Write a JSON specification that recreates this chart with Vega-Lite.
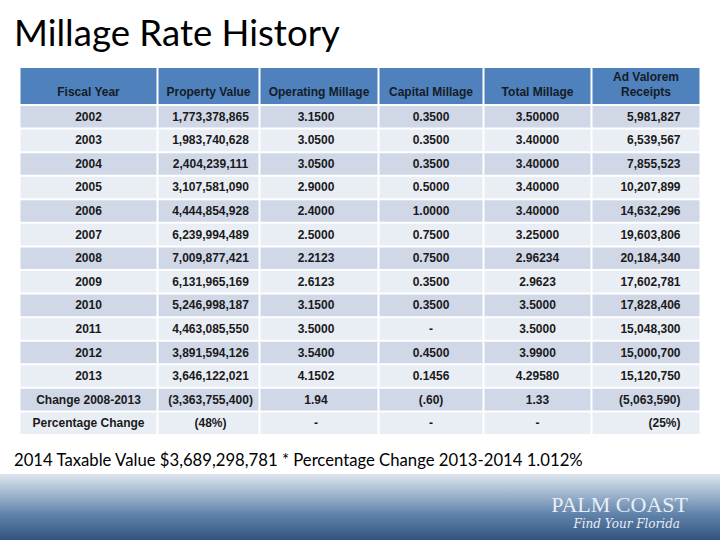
{
  "$schema": "https://vega.github.io/schema/vega-lite/v6.json",
  "padding": {"top": 17, "left": 0, "right": 0, "bottom": 0},
  "background": "white",
  "title": {"text": "Millage Rate History", "anchor": "start", "dx": 14, "font": "Lato", "fontSize": 36.6, "fontWeight": "normal", "color": "#000000", "offset": 14},
  "config": {"view": {"stroke": null}},
  "datasets": {
    "table": [
      {"year": "2002", "pv": "1,773,378,865", "op": "3.1500", "cap": "0.3500", "total": "3.50000", "adv": "5,981,827"},
      {"year": "2003", "pv": "1,983,740,628", "op": "3.0500", "cap": "0.3500", "total": "3.40000", "adv": "6,539,567"},
      {"year": "2004", "pv": "2,404,239,111", "op": "3.0500", "cap": "0.3500", "total": "3.40000", "adv": "7,855,523"},
      {"year": "2005", "pv": "3,107,581,090", "op": "2.9000", "cap": "0.5000", "total": "3.40000", "adv": "10,207,899"},
      {"year": "2006", "pv": "4,444,854,928", "op": "2.4000", "cap": "1.0000", "total": "3.40000", "adv": "14,632,296"},
      {"year": "2007", "pv": "6,239,994,489", "op": "2.5000", "cap": "0.7500", "total": "3.25000", "adv": "19,603,806"},
      {"year": "2008", "pv": "7,009,877,421", "op": "2.2123", "cap": "0.7500", "total": "2.96234", "adv": "20,184,340"},
      {"year": "2009", "pv": "6,131,965,169", "op": "2.6123", "cap": "0.3500", "total": "2.9623", "adv": "17,602,781"},
      {"year": "2010", "pv": "5,246,998,187", "op": "3.1500", "cap": "0.3500", "total": "3.5000", "adv": "17,828,406"},
      {"year": "2011", "pv": "4,463,085,550", "op": "3.5000", "cap": "-", "total": "3.5000", "adv": "15,048,300"},
      {"year": "2012", "pv": "3,891,594,126", "op": "3.5400", "cap": "0.4500", "total": "3.9900", "adv": "15,000,700"},
      {"year": "2013", "pv": "3,646,122,021", "op": "4.1502", "cap": "0.1456", "total": "4.29580", "adv": "15,120,750"},
      {"year": "Change  2008-2013", "pv": "(3,363,755,400)", "op": "1.94", "cap": "(.60)", "total": "1.33", "adv": "(5,063,590)"},
      {"year": "Percentage Change", "pv": "(48%)", "op": "-", "cap": "-", "total": "-", "adv": "(25%)"}
    ]
  },
  "center": true,
  "spacing": 19,
  "vconcat": [
    {
      "spacing": 2,
      "vconcat": [
        {
          "spacing": 2,
          "hconcat": [
            {"width": 136, "height": 36, "data": {"values": [{"h": "Fiscal Year"}]}, "layer": [
              {"mark": {"type": "rect", "fill": "#4f81bd"}, "encoding": {}},
              {"mark": {"type": "text", "font": "Liberation Sans", "fontSize": 12, "fontWeight": "bold", "color": "#141c28", "baseline": "alphabetic", "dy": -8}, "encoding": {"text": {"field": "h"}, "y": {"value": "height"}}}
            ]},
            {"width": 100, "height": 36, "data": {"values": [{"h": "Property Value"}]}, "layer": [
              {"mark": {"type": "rect", "fill": "#4f81bd"}, "encoding": {}},
              {"mark": {"type": "text", "font": "Liberation Sans", "fontSize": 12, "fontWeight": "bold", "color": "#141c28", "baseline": "alphabetic", "dy": -8}, "encoding": {"text": {"field": "h"}, "y": {"value": "height"}}}
            ]},
            {"width": 117, "height": 36, "data": {"values": [{"h": "Operating Millage"}]}, "layer": [
              {"mark": {"type": "rect", "fill": "#4f81bd"}, "encoding": {}},
              {"mark": {"type": "text", "font": "Liberation Sans", "fontSize": 12, "fontWeight": "bold", "color": "#141c28", "baseline": "alphabetic", "dy": -8}, "encoding": {"text": {"field": "h"}, "y": {"value": "height"}}}
            ]},
            {"width": 103, "height": 36, "data": {"values": [{"h": "Capital Millage"}]}, "layer": [
              {"mark": {"type": "rect", "fill": "#4f81bd"}, "encoding": {}},
              {"mark": {"type": "text", "font": "Liberation Sans", "fontSize": 12, "fontWeight": "bold", "color": "#141c28", "baseline": "alphabetic", "dy": -8}, "encoding": {"text": {"field": "h"}, "y": {"value": "height"}}}
            ]},
            {"width": 106, "height": 36, "data": {"values": [{"h": "Total Millage"}]}, "layer": [
              {"mark": {"type": "rect", "fill": "#4f81bd"}, "encoding": {}},
              {"mark": {"type": "text", "font": "Liberation Sans", "fontSize": 12, "fontWeight": "bold", "color": "#141c28", "baseline": "alphabetic", "dy": -8}, "encoding": {"text": {"field": "h"}, "y": {"value": "height"}}}
            ]},
            {"width": 107, "height": 36, "data": {"values": [{"h": "Ad Valorem\nReceipts"}]}, "layer": [
              {"mark": {"type": "rect", "fill": "#4f81bd"}, "encoding": {}},
              {"mark": {"type": "text", "font": "Liberation Sans", "fontSize": 12, "fontWeight": "bold", "color": "#141c28", "baseline": "alphabetic", "dy": -23, "lineBreak": "\n", "lineHeight": 15}, "encoding": {"text": {"field": "h"}, "y": {"value": "height"}}}
            ]}
          ]
        },
        {
          "spacing": 2,
          "hconcat": [
            {"width": 136, "height": 328, "data": {"name": "table"},
              "encoding": {"y": {"field": "year", "type": "ordinal", "sort": null, "axis": null, "scale": {"paddingInner": 0.085, "paddingOuter": 0}}},
              "layer": [
                {"mark": {"type": "rect"}, "encoding": {"color": {"field": "year", "type": "nominal", "sort": null, "legend": null, "scale": {"range": ["#d0d8e8", "#e9edf4"]}}}},
                {"mark": {"type": "text", "font": "Liberation Sans", "fontSize": 12, "fontWeight": "bold", "color": "#1a1a1a"}, "encoding": {"text": {"field": "year"}}}
              ]},
            {"width": 100, "height": 328, "data": {"name": "table"},
              "encoding": {"y": {"field": "year", "type": "ordinal", "sort": null, "axis": null, "scale": {"paddingInner": 0.085, "paddingOuter": 0}}},
              "layer": [
                {"mark": {"type": "rect"}, "encoding": {"color": {"field": "year", "type": "nominal", "sort": null, "legend": null, "scale": {"range": ["#d0d8e8", "#e9edf4"]}}}},
                {"mark": {"type": "text", "font": "Liberation Sans", "fontSize": 12, "fontWeight": "bold", "color": "#1a1a1a", "dx": 2}, "encoding": {"text": {"field": "pv"}}}
              ]},
            {"width": 117, "height": 328, "data": {"name": "table"},
              "encoding": {"y": {"field": "year", "type": "ordinal", "sort": null, "axis": null, "scale": {"paddingInner": 0.085, "paddingOuter": 0}}},
              "layer": [
                {"mark": {"type": "rect"}, "encoding": {"color": {"field": "year", "type": "nominal", "sort": null, "legend": null, "scale": {"range": ["#d0d8e8", "#e9edf4"]}}}},
                {"mark": {"type": "text", "font": "Liberation Sans", "fontSize": 12, "fontWeight": "bold", "color": "#1a1a1a", "dx": -3}, "encoding": {"text": {"field": "op"}}}
              ]},
            {"width": 103, "height": 328, "data": {"name": "table"},
              "encoding": {"y": {"field": "year", "type": "ordinal", "sort": null, "axis": null, "scale": {"paddingInner": 0.085, "paddingOuter": 0}}},
              "layer": [
                {"mark": {"type": "rect"}, "encoding": {"color": {"field": "year", "type": "nominal", "sort": null, "legend": null, "scale": {"range": ["#d0d8e8", "#e9edf4"]}}}},
                {"mark": {"type": "text", "font": "Liberation Sans", "fontSize": 12, "fontWeight": "bold", "color": "#1a1a1a"}, "encoding": {"text": {"field": "cap"}}}
              ]},
            {"width": 106, "height": 328, "data": {"name": "table"},
              "encoding": {"y": {"field": "year", "type": "ordinal", "sort": null, "axis": null, "scale": {"paddingInner": 0.085, "paddingOuter": 0}}},
              "layer": [
                {"mark": {"type": "rect"}, "encoding": {"color": {"field": "year", "type": "nominal", "sort": null, "legend": null, "scale": {"range": ["#d0d8e8", "#e9edf4"]}}}},
                {"mark": {"type": "text", "font": "Liberation Sans", "fontSize": 12, "fontWeight": "bold", "color": "#1a1a1a"}, "encoding": {"text": {"field": "total"}}}
              ]},
            {"width": 107, "height": 328, "data": {"name": "table"},
              "encoding": {"y": {"field": "year", "type": "ordinal", "sort": null, "axis": null, "scale": {"paddingInner": 0.085, "paddingOuter": 0}}},
              "layer": [
                {"mark": {"type": "rect"}, "encoding": {"color": {"field": "year", "type": "nominal", "sort": null, "legend": null, "scale": {"range": ["#d0d8e8", "#e9edf4"]}}}},
                {"mark": {"type": "text", "font": "Liberation Sans", "fontSize": 12, "fontWeight": "bold", "color": "#1a1a1a", "align": "right", "dx": -19}, "encoding": {"text": {"field": "adv"}, "x": {"value": "width"}}}
              ]}
          ]
        }
      ]
    },
    {
      "width": 720, "height": 68,
      "title": {"text": "2014 Taxable Value $3,689,298,781 * Percentage Change 2013-2014  1.012%", "anchor": "start", "dx": 14, "font": "Lato", "fontSize": 16.7, "fontWeight": "normal", "color": "#000000", "offset": 4},
      "layer": [
        {"data": {"values": [{}]}, "mark": {"type": "rect", "fill": {"gradient": "linear", "x1": 0, "y1": 0, "x2": 0, "y2": 1, "stops": [{"offset": 0, "color": "#dfe6ee"}, {"offset": 0.25, "color": "#a9bdd3"}, {"offset": 0.6, "color": "#5f82aa"}, {"offset": 1, "color": "#2f4f7a"}]}}, "encoding": {}},
        {"data": {"values": [{"t": "PALM COAST"}]}, "mark": {"type": "text", "font": "Liberation Serif", "fontSize": 22, "color": "#e8eef5", "align": "right", "dx": -32, "dy": -3}, "encoding": {"text": {"field": "t"}, "x": {"value": "width"}}},
        {"data": {"values": [{"t": "Find Your Florida"}]}, "mark": {"type": "text", "font": "DejaVu Serif", "fontStyle": "italic", "fontSize": 12, "color": "#e8eef5", "align": "right", "dx": -40, "dy": 16}, "encoding": {"text": {"field": "t"}, "x": {"value": "width"}}}
      ]
    }
  ]
}
